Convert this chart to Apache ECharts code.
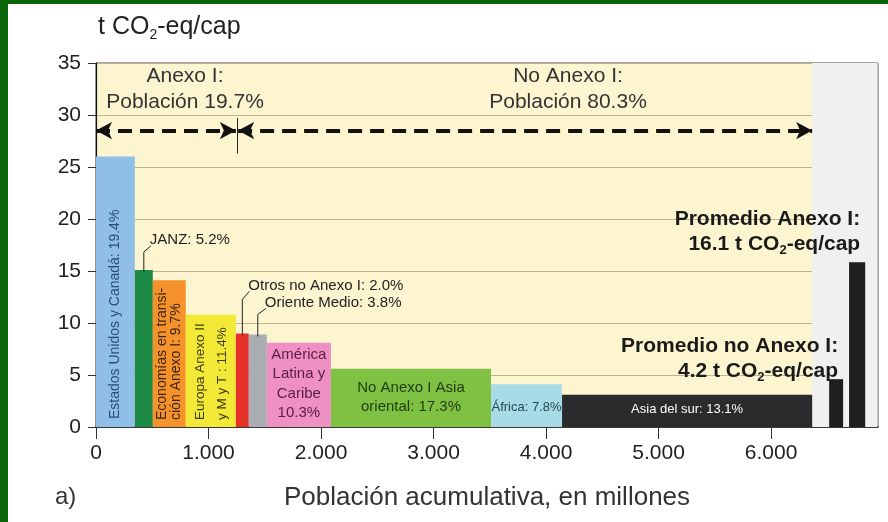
<!DOCTYPE html>
<html>
<head>
<meta charset="utf-8">
<script src="https://cdn.jsdelivr.net/npm/echarts@6/dist/echarts.min.js"></script>
<style>
  html, body { margin: 0; padding: 0; background: #fff; }
  #main { width: 888px; height: 522px; }
</style>
</head>
<body>
<div id="main"></div>
<script>
// regiones (población en millones, emisiones t CO2-eq/cap)
var regionNames = ['Estados Unidos y Canadá', 'JANZ', 'Economías en transición Anexo I', 'Europa Anexo II y M y T',
  'Otros no Anexo I', 'Oriente Medio', 'América Latina y Caribe', 'No Anexo I Asia oriental', 'África', 'Asia del sur'];
var population = [345, 160, 293, 445, 115, 160, 570, 1423, 631, 2223];
var emissions = [26.0, 15.1, 14.1, 10.8, 9.0, 8.9, 8.1, 5.6, 4.1, 3.1];
var shareLabels = ['Estados Unidos y Canadá: 19.4%', 'JANZ: 5.2%', 'Economías en transi-\nción Anexo I: 9.7%',
  'Europa Anexo II\ny M y T : 11.4%', 'Otros no Anexo I: 2.0%', 'Oriente Medio: 3.8%',
  'América\nLatina y\nCaribe\n10.3%', 'No Anexo I Asia\noriental: 17.3%', 'África: 7.8%', 'Asia del sur: 13.1%'];
var regionColors = ['#8fbfe7', '#1d8a45', '#f5922b', '#f1e936', '#e6322b', '#a9adb1', '#ee90c3', '#7fc243', '#a7dce6', '#2b2b2e'];

// promedios
var avgNames = ['Promedio no Anexo I', 'Promedio Anexo I'];
var avgStart = [6516, 6693];
var avgEnd = [6640, 6836];
var avgValues = [4.6, 15.85];
var avgValueText = ['4.2', '16.1'];

var annexCount = 4;          // las 4 primeras regiones son Anexo I
var arrowLevel = 28.5;
var xTicks = [0, 1000, 2000, 3000, 4000, 5000, 6000];
var xMax = 6950;

// acumulado
var starts = [], ends = [];
var acc = 0;
for (var i = 0; i < population.length; i++) {
  starts.push(acc);
  acc += population[i];
  ends.push(acc);
}
var total = acc;
var annexEnd = ends[annexCount - 1];

var barData = [];
for (var i = 0; i < population.length; i++) {
  barData.push({ name: regionNames[i], value: [starts[i], ends[i], emissions[i], i] });
}
var avgData = [];
for (var i = 0; i < avgNames.length; i++) {
  avgData.push({ name: avgNames[i], value: [avgStart[i], avgEnd[i], avgValues[i], i] });
}

var FONT = '"Liberation Sans", Arial, sans-serif';

// estilo de las etiquetas dentro/encima de cada barra
var labelStyle = [
  { kind: 'rot', size: 14, lh: 14, color: '#2c4a78', bottom: 8 },
  { kind: 'leader', size: 15, color: '#222', up: 18, dx: 7, dy: 6 },
  { kind: 'rot', size: 14, lh: 14, color: '#3a2508', bottom: 7 },
  { kind: 'rot', size: 13.5, lh: 22, color: '#3d3a08', bottom: 7 },
  { kind: 'leader', size: 15, color: '#222', up: 34, dx: 7, dy: 8 },
  { kind: 'leader', size: 15, color: '#222', up: 20, dx: 8, dy: 6 },
  { kind: 'top', size: 15, lh: 19.5, color: '#5a1d3f', pad: 2 },
  { kind: 'top', size: 15, lh: 19, color: '#1f3b0e', pad: 10 },
  { kind: 'top', size: 13, lh: 18, color: '#2a4653', pad: 14 },
  { kind: 'top', size: 13, lh: 18, color: '#ffffff', pad: 6 }
];

function renderBar(params, api) {
  var idx = api.value(3);
  var p0 = api.coord([api.value(0), api.value(2)]);
  var p1 = api.coord([api.value(1), 0]);
  var w = p1[0] - p0[0], h = p1[1] - p0[1];
  var cx = p0[0] + w / 2;
  var children = [{
    type: 'rect',
    shape: { x: p0[0], y: p0[1], width: w, height: h },
    style: { fill: regionColors[idx] }
  }];
  var ls = labelStyle[idx];
  if (ls.kind === 'rot') {
    children.push({
      type: 'text', x: cx, y: p1[1] - ls.bottom, rotation: Math.PI / 2, z2: 10,
      style: { text: shareLabels[idx], fill: ls.color, font: ls.size + 'px ' + FONT,
        lineHeight: ls.lh, align: 'left', verticalAlign: 'middle' }
    });
  } else if (ls.kind === 'top') {
    children.push({
      type: 'text', x: cx, y: p0[1] + ls.pad, z2: 10,
      style: { text: shareLabels[idx], fill: ls.color, font: ls.size + 'px ' + FONT,
        lineHeight: ls.lh, align: 'center', verticalAlign: 'top' }
    });
  } else {
    var lx = cx, ly = p0[1] + 2;
    var kx = lx, ky = p0[1] - ls.up;
    var ex = kx + ls.dx, ey = ky - ls.dy;
    children.push({
      type: 'polyline', z2: 10,
      shape: { points: [[lx, ly], [kx, ky], [ex, ey]] },
      style: { stroke: '#222', lineWidth: 1, fill: null }
    });
    children.push({
      type: 'text', x: ex - 1, y: ey - 6, z2: 10,
      style: { text: shareLabels[idx], fill: ls.color, font: ls.size + 'px ' + FONT,
        align: 'left', verticalAlign: 'middle' }
    });
  }
  return { type: 'group', children: children };
}

// etiquetas de los promedios (a la izquierda de la barra, alineadas a la derecha)
var avgLabelOffset = [[-5, 6], [-5, 16]];
function renderAvg(params, api) {
  var idx = api.value(3);
  var p0 = api.coord([api.value(0), api.value(2)]);
  var p1 = api.coord([api.value(1), 0]);
  var off = avgLabelOffset[idx];
  return {
    type: 'group',
    children: [{
      type: 'rect',
      shape: { x: p0[0], y: p0[1], width: p1[0] - p0[0], height: p1[1] - p0[1] },
      style: { fill: '#1e1e1f' }
    }, {
      type: 'text', x: p1[0] + off[0], y: p0[1] - off[1] + 11, z2: 10,
      style: {
        text: '{b|' + avgNames[idx] + ':}\n{b|' + avgValueText[idx] + ' t CO}{s|2}{b|-eq/cap}',
        align: 'right', verticalAlign: 'bottom',
        rich: {
          b: { font: 'bold 21px ' + FONT, fill: '#1a1a1a', lineHeight: 25 },
          s: { font: 'bold 13px ' + FONT, fill: '#1a1a1a', lineHeight: 12, verticalAlign: 'bottom' }
        }
      }
    }]
  };
}

var myChart = echarts.init(document.getElementById('main'));

var option = {
  animation: false,
  backgroundColor: '#ffffff',
  grid: {
    left: 96, right: 10, top: 63, bottom: 95,
    show: true, backgroundColor: '#fdf5d0', borderColor: '#4a4a4a', borderWidth: 1
  },
  xAxis: {
    type: 'value', min: 0, max: xMax,
    splitLine: { show: false },
    axisLine: { show: true, lineStyle: { color: '#111', width: 1.5 } },
    axisTick: { show: true, length: 12, customValues: xTicks, lineStyle: { color: '#333' } },
    axisLabel: {
      customValues: xTicks, margin: 16, color: '#222', fontSize: 21, fontFamily: FONT,
      formatter: function (v) { return v >= 1000 ? (v / 1000) + '.000' : String(v); }
    }
  },
  yAxis: {
    type: 'value', min: 0, max: 35, interval: 5,
    splitLine: { show: true, lineStyle: { color: '#bdb393', width: 1 } },
    axisLine: { show: true, lineStyle: { color: '#111', width: 1.2 } },
    axisTick: { show: true, length: 8, lineStyle: { color: '#333' } },
    axisLabel: { margin: 15, color: '#222', fontSize: 21, fontFamily: FONT }
  },
  series: [{
    type: 'custom',
    name: 'Regiones',
    renderItem: renderBar,
    encode: { x: [0, 1], y: 2 },
    data: barData,
    z: 3,
    markArea: {
      silent: true,
      itemStyle: { color: '#f0f0f1' },
      data: [[{ xAxis: total }, { xAxis: xMax - 5 }]]
    },
    markLine: {
      silent: true,
      symbol: ['arrow', 'arrow'],
      symbolSize: [13, 16],
      label: { show: false },
      lineStyle: { color: '#111', width: 4, type: [14, 8] },
      data: [
        [{ coord: [0, arrowLevel] }, { coord: [annexEnd, arrowLevel] }],
        [{ coord: [annexEnd + 20, arrowLevel] }, { coord: [total, arrowLevel] }],
        [{ coord: [annexEnd + 10, 26.3], symbol: 'none', lineStyle: { width: 1, type: 'solid', color: '#222' } },
         { coord: [annexEnd + 10, 29.7], symbol: 'none' }]
      ]
    }
  }, {
    type: 'custom',
    name: 'Promedios',
    renderItem: renderAvg,
    encode: { x: [0, 1], y: 2 },
    data: avgData,
    z: 4
  }],
  graphic: [
    { type: 'rect', left: 0, top: 0, shape: { width: 888, height: 4 }, style: { fill: '#0a650a' } },
    { type: 'rect', left: 0, top: 0, shape: { width: 8, height: 522 }, style: { fill: '#0a650a' } },
    {
      type: 'text', left: 98, top: 15,
      style: {
        text: '{a|t CO}{s|2}{a|-eq/cap}',
        rich: {
          a: { font: '25px ' + FONT, fill: '#222', lineHeight: 30 },
          s: { font: '14px ' + FONT, fill: '#222', lineHeight: 13, verticalAlign: 'bottom' }
        }
      }
    },
    {
      type: 'text', x: 185, y: 63, z: 10,
      style: { text: 'Anexo I:\nPoblación 19.7%', font: '21px ' + FONT, fill: '#333',
        lineHeight: 26, align: 'center', verticalAlign: 'top' }
    },
    {
      type: 'text', x: 568, y: 63, z: 10,
      style: { text: 'No Anexo I:\nPoblación 80.3%', font: '21px ' + FONT, fill: '#333',
        lineHeight: 26, align: 'center', verticalAlign: 'top' }
    },
    {
      type: 'text', x: 487, y: 498,
      style: { text: 'Población acumulativa, en millones', font: '26px ' + FONT, fill: '#333',
        align: 'center', verticalAlign: 'middle' }
    },
    {
      type: 'text', x: 55, y: 497,
      style: { text: 'a)', font: '24px ' + FONT, fill: '#333', align: 'left', verticalAlign: 'middle' }
    }
  ]
};

myChart.setOption(option);
</script>
</body>
</html>
